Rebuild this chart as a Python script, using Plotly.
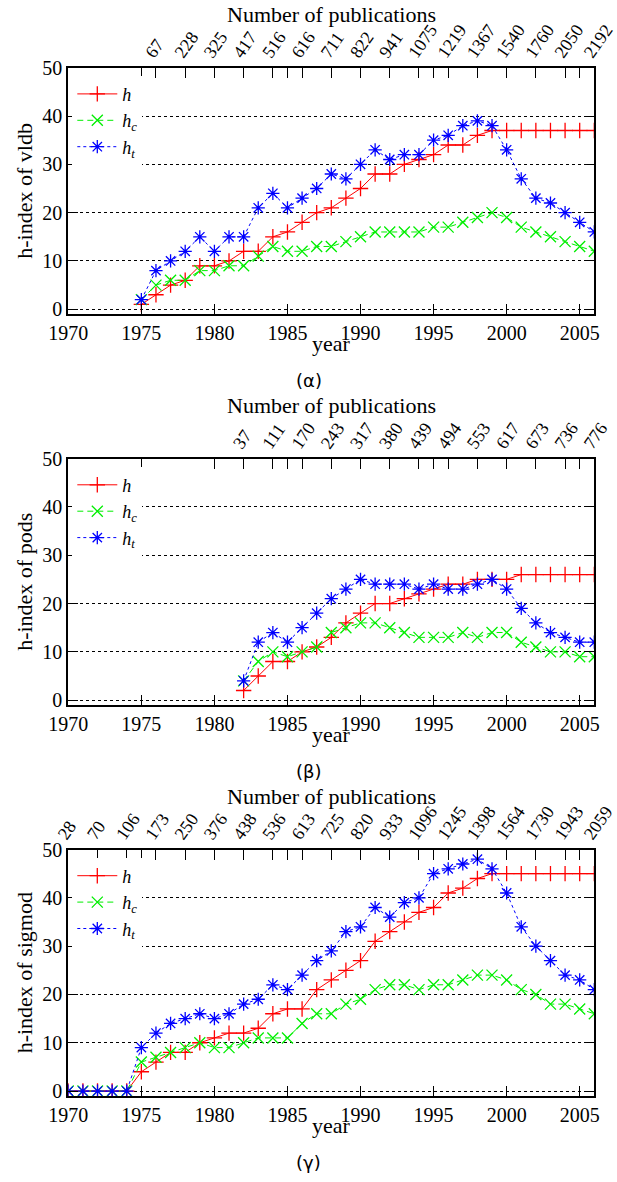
import plotly.graph_objects as go

# ---------------- data ----------------
years_vldb = list(range(1975, 2007))
h_vldb = [1, 3, 5, 6, 9, 9, 10, 12, 12, 15, 16, 18, 20, 21, 23, 25, 28, 28, 30, 31, 32, 34, 34, 36, 37,
          37, 37, 37, 37, 37, 37, 37]
hc_vldb = [2, 5, 6, 6, 8, 8, 9, 9, 11, 13, 12, 12, 13, 13, 14, 15, 16, 16, 16, 16, 17, 17, 18, 19, 20,
           19, 17, 16, 15, 14, 13, 12]
ht_vldb = [2, 8, 10, 12, 15, 12, 15, 15, 21, 24, 21, 23, 25, 28, 27, 30, 33, 31, 32, 32, 35, 36, 38, 39, 38,
           33, 27, 23, 22, 20, 18, 16]
pub_years_vldb = list(range(1976, 2007, 2))
pubs_vldb = [67, 228, 325, 417, 516, 616, 711, 822, 941, 1075, 1219, 1367, 1540, 1760, 2050, 2192]

years_pods = list(range(1982, 2007))
h_pods = [2, 5, 8, 8, 10, 11, 13, 16, 18, 20, 20, 21, 22, 23, 24, 24, 25, 25, 25, 26, 26, 26, 26, 26, 26]
hc_pods = [4, 8, 10, 9, 10, 11, 14, 15, 16, 16, 15, 14, 13, 13, 13, 14, 13, 14, 14, 12, 11, 10, 10, 9, 9]
ht_pods = [4, 12, 14, 12, 15, 18, 21, 23, 25, 24, 24, 24, 23, 24, 23, 23, 24, 25, 23, 19, 16, 14, 13, 12, 12]
pub_years_pods = list(range(1982, 2007, 2))
pubs_pods = [37, 111, 170, 243, 317, 380, 439, 494, 553, 617, 673, 736, 776]

years_sigmod = list(range(1970, 2007))
h_sigmod = [0, 0, 0, 0, 0, 4, 6, 8, 8, 10, 11, 12, 12, 13, 16, 17, 17, 21, 23, 25, 27, 31, 33, 35, 37, 38,
            41, 42, 44, 45, 45, 45, 45, 45, 45, 45, 45]
hc_sigmod = [0, 0, 0, 0, 0, 6, 7, 8, 9, 10, 9, 9, 10, 11, 11, 11, 14, 16, 16, 18, 19, 21, 22, 22, 21, 22,
             22, 23, 24, 24, 23, 21, 20, 18, 18, 17, 16]
ht_sigmod = [0, 0, 0, 0, 0, 9, 12, 14, 15, 16, 15, 16, 18, 19, 22, 21, 24, 27, 29, 33, 34, 38, 36, 39, 40, 45,
             46, 47, 48, 46, 41, 34, 30, 27, 24, 23, 21]
pub_years_sigmod = list(range(1970, 2007, 2))
pubs_sigmod = [28, 70, 106, 173, 250, 376, 438, 536, 613, 725, 820, 933, 1096, 1245, 1398, 1564, 1730, 1943, 2059]

year_ticks = [1970, 1975, 1980, 1985, 1990, 1995, 2000, 2005]
h_ticks = [0, 10, 20, 30, 40, 50]
venues = ["vldb", "pods", "sigmod"]
captions = ["(α)", "(β)", "(γ)"]
series_names = ["<i>h</i>", "<i>h</i><sub><i>c</i></sub>", "<i>h</i><sub><i>t</i></sub>"]

# ---------------- styling ----------------
W, H = 617, 1182
FONT = "Liberation Serif, DejaVu Serif, serif"
colors = ["#ff0000", "#00ee00", "#0000ff"]
dashes = ["solid", "6px,4px", "3px,3px"]
symbols = ["cross-thin", "x-thin", "asterisk"]
msizes = [11, 11, 11]

x0, x1 = 68.3 / W, 594.3 / W
panel_tops = [67.7, 458.6, 849.5]
panel_h = 246.4
caption_dy = 313      # caption centre below panel top (px)
year_dy = 276         # "year" label centre below panel top (px)
pubtitle_dy = -53     # "Number of publications" centre relative to panel top (px)

data = [
    (years_vldb, [h_vldb, hc_vldb, ht_vldb], pub_years_vldb, pubs_vldb),
    (years_pods, [h_pods, hc_pods, ht_pods], pub_years_pods, pubs_pods),
    (years_sigmod, [h_sigmod, hc_sigmod, ht_sigmod], pub_years_sigmod, pubs_sigmod),
]

fig = go.Figure()
layout = {}
annotations = []

for i, (yrs, series, pyears, pubs) in enumerate(data):
    xb = 2 * i + 1
    xt = 2 * i + 2
    yi = i + 1
    xb_ref = "x" if xb == 1 else f"x{xb}"
    xt_ref = f"x{xt}"
    y_ref = "y" if yi == 1 else f"y{yi}"
    leg = "legend" if i == 0 else f"legend{i + 1}"
    top = panel_tops[i]
    yd0 = 1 - (top + panel_h) / H
    yd1 = 1 - top / H

    for k in range(3):
        fig.add_trace(go.Scatter(
            x=yrs, y=series[k], name=series_names[k], mode="lines+markers",
            xaxis=xb_ref, yaxis=y_ref, legend=leg,
            line=dict(color=colors[k], width=1, dash=dashes[k]),
            marker=dict(symbol=symbols[k], size=msizes[k], color=colors[k],
                        line=dict(width=1.3, color=colors[k])),
        ))
    # invisible carrier trace so the top (publications) axis is drawn
    fig.add_trace(go.Scatter(
        x=pyears, y=[None] * len(pyears), xaxis=xt_ref, yaxis=y_ref,
        mode="markers", showlegend=False, hoverinfo="skip"))

    axis_common = dict(showgrid=False, zeroline=False, tickcolor="black", tickwidth=1,
                       ticks="inside", ticklen=10, automargin=False)

    layout["xaxis" if xb == 1 else f"xaxis{xb}"] = dict(
        domain=[x0, x1], anchor=y_ref, range=[1970, 2006],
        tickmode="array", tickvals=year_ticks,
        showline=True, linewidth=2, linecolor="black", mirror="ticks",
        tickfont=dict(family=FONT, size=20, color="black"),
        **axis_common)
    layout[f"xaxis{xt}"] = dict(
        overlaying=xb_ref, side="top", anchor=y_ref, range=[1970, 2006],
        tickmode="array", tickvals=pyears, ticktext=[str(p) for p in pubs],
        tickangle=-55, showline=False, ticklabelshift=-9, ticklabeloverflow="allow",
        tickfont=dict(family=FONT, size=18, color="black"),
        **axis_common)
    layout["yaxis" if yi == 1 else f"yaxis{yi}"] = dict(
        domain=[yd0, yd1], anchor=xb_ref, range=[-1, 50], automargin=False,
        tickmode="array", tickvals=h_ticks,
        showline=True, linewidth=2, linecolor="black", mirror="ticks",
        title=dict(text=f"h-index of {venues[i]}", standoff=4,
                   font=dict(family=FONT, size=22, color="black")),
        ticks="inside", ticklen=10, tickcolor="black", tickwidth=1,
        tickfont=dict(family=FONT, size=20, color="black"),
        showgrid=True, gridcolor="black", griddash="dot", gridwidth=1, zeroline=False)
    layout[leg] = dict(
        x=x0 + 4 / W, y=yd1 - 8 / H, xanchor="left", yanchor="top",
        bgcolor="white", borderwidth=0, tracegroupgap=0,
        font=dict(family=FONT, size=18, color="black"), itemwidth=40)

    annotations.append(dict(
        x=(x0 + x1) / 2, y=1 - (top + pubtitle_dy) / H, xref="paper", yref="paper",
        text="Number of publications", showarrow=False, xanchor="center", yanchor="middle",
        font=dict(family=FONT, size=22, color="black")))
    annotations.append(dict(
        x=(x0 + x1) / 2, y=1 - (top + year_dy) / H, xref="paper", yref="paper",
        text="year", showarrow=False, xanchor="center", yanchor="middle",
        font=dict(family=FONT, size=22, color="black")))
    annotations.append(dict(
        x=0.5, y=1 - (top + caption_dy) / H, xref="paper", yref="paper",
        text=captions[i], showarrow=False, xanchor="center", yanchor="middle",
        font=dict(family="DejaVu Sans", size=18, color="black")))

fig.update_layout(
    width=W, height=H, margin=dict(l=0, r=0, t=0, b=0, autoexpand=False),
    paper_bgcolor="white", plot_bgcolor="white",
    font=dict(family=FONT, size=20, color="black"),
    annotations=annotations, **layout)

fig.write_html("out.html", config={"displayModeBar": False},
               post_script="document.body.style.margin='0px';document.body.style.padding='0px';")
